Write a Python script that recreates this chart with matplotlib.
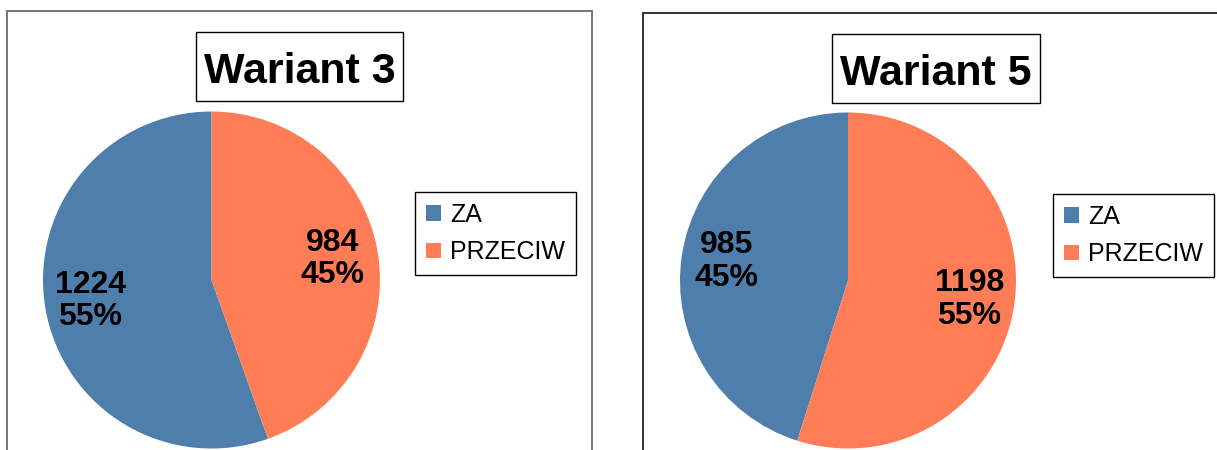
"""Two pie charts of ZA / PRZECIW votes for Wariant 3 and Wariant 5."""

import numpy as np
import matplotlib
matplotlib.use('Agg')
import matplotlib.pyplot as plt
from matplotlib.patches import Rectangle, Patch

# Data
variants = ['Wariant 3', 'Wariant 5']
categories = ['ZA', 'PRZECIW']
votes_w3 = [1224, 984]
votes_w5 = [985, 1198]

COLORS = ['#4e7eab', '#ff7d56']
W, H = 1217, 450

plt.rcParams['font.family'] = ['Liberation Sans', 'DejaVu Sans']


def fx(x):
    return x / W


def fy(y):
    return 1 - y / H


def draw_panel(fig, title, votes, frame, frame_color, pie_c, radius,
               title_box, title_base, legend_pos):
    # panel frame, runs off the bottom of the figure
    x0, y0, x1 = frame
    fig.add_artist(Rectangle((fx(x0), fy(H + 20)), fx(x1) - fx(x0), fy(y0) - fy(H + 20),
                             transform=fig.transFigure, fill=False,
                             edgecolor=frame_color, linewidth=1.4, clip_on=False))

    # title in a boxed frame
    bx0, by0, bx1, by1 = title_box
    fig.add_artist(Rectangle((fx(bx0), fy(by1)), fx(bx1) - fx(bx0), fy(by0) - fy(by1),
                             transform=fig.transFigure, fill=False,
                             edgecolor='black', linewidth=1.0))
    fig.text(fx((bx0 + bx1) / 2), fy(title_base), title, ha='center', va='baseline',
             fontsize=31, fontweight='bold')

    cx, cy = pie_c
    ax = fig.add_axes([fx(cx - radius), fy(cy + radius),
                       2 * radius / W, 2 * radius / H])
    wedges, _ = ax.pie(votes, colors=COLORS, startangle=90, counterclock=True,
                       radius=1.0, wedgeprops=dict(linewidth=0))
    ax.set_xlim(-1, 1)
    ax.set_ylim(-1, 1)
    ax.axis('off')

    total = sum(votes)
    for w, v in zip(wedges, votes):
        ang = np.deg2rad((w.theta1 + w.theta2) / 2)
        r = 0.73
        ax.text(r * np.cos(ang), r * np.sin(ang), f'{v}\n{v / total * 100:.0f}%',
                ha='center', va='center', fontsize=23, fontweight='bold',
                linespacing=1.12)

    handles = [Patch(facecolor=c, edgecolor='none') for c in COLORS]
    fig.legend(handles, categories, loc='upper left',
               bbox_to_anchor=(fx(legend_pos[0]), fy(legend_pos[1])),
               bbox_transform=fig.transFigure, borderaxespad=0,
               fontsize=18, frameon=True, fancybox=False, framealpha=1,
               edgecolor='black', handlelength=0.6, handleheight=0.6,
               handletextpad=0.4, labelspacing=0.55, borderpad=0.42)


fig = plt.figure(figsize=(W / 100, H / 100), dpi=100)

draw_panel(fig, variants[0], votes_w3, frame=(6.5, 11, 592), frame_color='#777777',
           pie_c=(211.5, 280), radius=168.5, title_box=(196, 32, 403, 101),
           title_base=82.7, legend_pos=(415, 192))
draw_panel(fig, variants[1], votes_w5, frame=(643, 12.5, W + 20), frame_color='#333333',
           pie_c=(848, 280.5), radius=168, title_box=(832, 34, 1040, 103),
           title_base=84.7, legend_pos=(1053, 194))

fig.savefig('out.png', dpi=100)
